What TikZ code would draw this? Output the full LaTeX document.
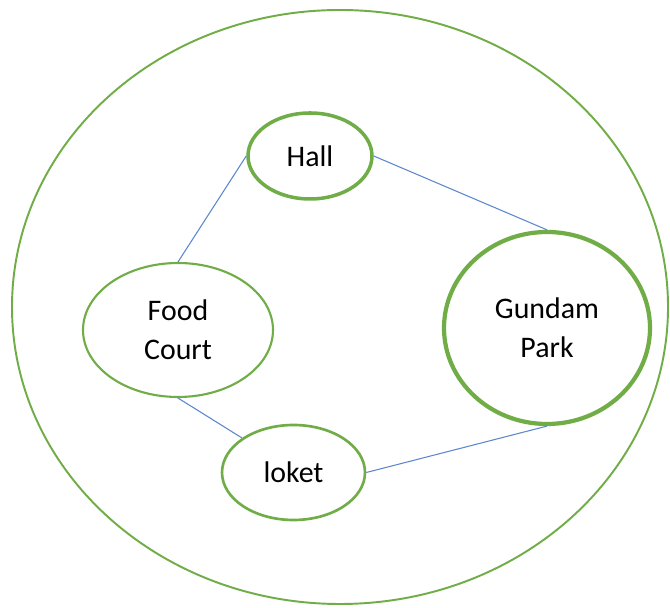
\documentclass[tikz,border=0pt]{standalone}
\usepackage{fontspec}
\setmainfont{Carlito}
\usepackage{tikz}
\usetikzlibrary{shapes.geometric, positioning}
\definecolor{mygreen}{RGB}{112,173,71}
\definecolor{myblue}{RGB}{91,135,205}
\tikzset{
  spot/.style={ellipse, draw=mygreen, fill=white, align=center,
    inner sep=0pt, font=\fontsize{17}{22}\selectfont},
  link/.style={draw=myblue, line width=0.6pt}
}
\begin{document}
\begin{tikzpicture}
  \useasboundingbox (0,0) rectangle (13.4,12.16);
  % outer area
  \node[spot, line width=1.1pt, minimum width=13.12cm, minimum height=11.88cm] (area) at (6.8,6.02) {};
  % places
  \node[spot, line width=2pt, minimum width=2.48cm, minimum height=1.72cm] (hall) at (6.2,9.04) {Hall};
  \node[spot, line width=1.2pt, minimum width=3.8cm, minimum height=2.68cm] (food) at (3.56,5.56) {Food\\Court};
  \node[spot, line width=2.4pt, minimum width=4.12cm, minimum height=3.84cm] (gundam) at (10.94,5.6) {Gundam\\Park};
  \node[spot, line width=1.5pt, minimum width=2.86cm, minimum height=1.9cm] (loket) at (5.87,2.71) {loket};
  % links
  \draw[link] (hall.west) -- (food.north);
  \draw[link] (hall.east) -- (gundam.north);
  \draw[link] (food.south) -- (loket.north west);
  \draw[link] (loket.east) -- (gundam.south);
\end{tikzpicture}
\end{document}
